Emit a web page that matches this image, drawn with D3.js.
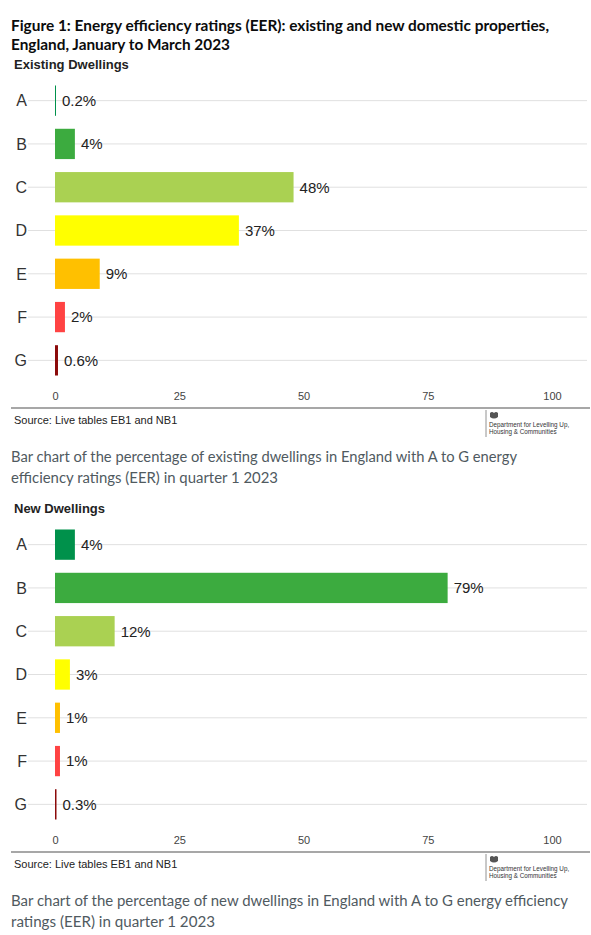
<!DOCTYPE html>
<html>
<head>
<meta charset="utf-8">
<script src="https://cdn.jsdelivr.net/npm/d3@7"></script>
<style>
  body { margin: 0; background: #fff; }
  svg { display: block; }
</style>
</head>
<body>
<svg id="chart" width="591" height="935"></svg>
<script>
// ratings and shares (%)
const ratings = ["A", "B", "C", "D", "E", "F", "G"];
const ratingColours = ["#00914b", "#3cab3f", "#aad152", "#ffff00", "#ffc000", "#ff4343", "#8b0a0a"];
const existingValues = [0.2, 4, 48, 37, 9, 2, 0.6];
const existingLabels = ["0.2%", "4%", "48%", "37%", "9%", "2%", "0.6%"];
const newValues = [4, 79, 12, 3, 1, 1, 0.3];
const newLabels = ["4%", "79%", "12%", "3%", "1%", "1%", "0.3%"];
const xTicks = [0, 25, 50, 75, 100];

const titleLines = [
  "Figure 1: Energy efficiency ratings (EER): existing and new domestic properties,",
  "England, January to March 2023"
];
const sourceText = "Source: Live tables EB1 and NB1";
const existingCaption = [
  "Bar chart of the percentage of existing dwellings in England with A to G energy",
  "efficiency ratings (EER) in quarter 1 2023"
];
const newCaption = [
  "Bar chart of the percentage of new dwellings in England with A to G energy efficiency",
  "ratings (EER) in quarter 1 2023"
];

const SANS = "'Liberation Sans', Arial, sans-serif";
const svg = d3.select("#chart");
svg.append("rect").attr("width", 591).attr("height", 935).attr("fill", "#fff");

const x = d3.scaleLinear().domain([0, 100]).range([55, 552]);

// title
svg.append("g").selectAll("text")
  .data(titleLines)
  .join("text")
  .attr("x", 11)
  .attr("y", (d, i) => 31 + i * 19)
  .attr("textLength", (d, i) => [538, 219][i])
  .attr("lengthAdjust", "spacingAndGlyphs")
  .style("font-family", "Lato, 'Noto Sans', sans-serif")
  .style("font-weight", "bold")
  .style("font-size", "16px")
  .style("fill", "#0b0c0c")
  .text(d => d);

const renderPanel = (top, heading, values, labels, caption, captionWidths) => {
  const g = svg.append("g").attr("transform", `translate(0,${top})`);

  g.append("text")
    .attr("x", 14)
    .attr("y", 0)
    .style("font-family", SANS)
    .style("font-weight", "bold")
    .style("font-size", "13px")
    .style("fill", "#222")
    .text(heading);

  const y = d3.scaleBand()
    .domain(ratings)
    .range([10, 313])
    .paddingInner(0.3)
    .paddingOuter(0.15);

  const rows = ratings.map((r, i) => ({ r, v: values[i], label: labels[i], c: ratingColours[i] }));

  // gridlines
  g.append("g").selectAll("line")
    .data(rows)
    .join("line")
    .attr("x1", 28)
    .attr("x2", 587)
    .attr("y1", d => y(d.r) + y.bandwidth() / 2)
    .attr("y2", d => y(d.r) + y.bandwidth() / 2)
    .attr("stroke", "#e0e0e0")
    .attr("stroke-width", 1);

  // bars
  g.append("g").selectAll("rect")
    .data(rows)
    .join("rect")
    .attr("x", x(0))
    .attr("y", d => y(d.r))
    .attr("width", d => Math.max(1, x(d.v) - x(0)))
    .attr("height", y.bandwidth())
    .attr("fill", d => d.c);

  // category letters
  g.append("g").selectAll("text")
    .data(rows)
    .join("text")
    .attr("x", 27)
    .attr("y", d => y(d.r) + y.bandwidth() / 2)
    .attr("dy", "0.36em")
    .attr("text-anchor", "end")
    .style("font-family", SANS)
    .style("font-size", "16px")
    .style("fill", "#333")
    .text(d => d.r);

  // value labels
  g.append("g").selectAll("text")
    .data(rows)
    .join("text")
    .attr("x", d => Math.max(x(d.v), x(0) + 1) + 6)
    .attr("y", d => y(d.r) + y.bandwidth() / 2)
    .attr("dy", "0.36em")
    .style("font-family", SANS)
    .style("font-size", "15px")
    .style("fill", "#222")
    .text(d => d.label);

  // x axis
  const axis = g.append("g")
    .attr("transform", "translate(0,327)")
    .call(d3.axisBottom(x).tickValues(xTicks).tickSize(0).tickPadding(0));
  axis.select(".domain").remove();
  axis.selectAll("text")
    .attr("dy", "0.36em")
    .attr("y", 0)
    .style("font-family", SANS)
    .style("font-size", "11px")
    .style("fill", "#444");

  // rule under the chart
  g.append("line")
    .attr("x1", 11).attr("x2", 590)
    .attr("y1", 339).attr("y2", 339)
    .attr("stroke", "#8a8a8a")
    .attr("stroke-width", 1.5);

  g.append("text")
    .attr("x", 14)
    .attr("y", 355)
    .style("font-family", SANS)
    .style("font-size", "11px")
    .style("fill", "#222")
    .text(sourceText);

  // department logo
  const logo = g.append("g").attr("transform", "translate(486,341)");
  logo.append("line")
    .attr("x1", 0).attr("x2", 0).attr("y1", 0).attr("y2", 27)
    .attr("stroke", "#777").attr("stroke-width", 0.8);
  logo.append("path")
    .attr("d", "M4,3 q2,-2 4,0 q2,-2 4,0 v4 q-4,3 -8,0 z")
    .attr("fill", "#555");
  logo.selectAll("text.dept")
    .data(["Department for Levelling Up,", "Housing & Communities"])
    .join("text")
    .attr("class", "dept")
    .attr("x", 3)
    .attr("y", (d, i) => 17 + i * 7)
    .style("font-family", SANS)
    .style("font-size", "6.3px")
    .style("fill", "#333")
    .text(d => d);

  // caption below
  g.append("g").selectAll("text")
    .data(caption)
    .join("text")
    .attr("x", 11)
    .attr("y", (d, i) => 393 + i * 21)
    .attr("textLength", (d, i) => captionWidths[i])
    .attr("lengthAdjust", "spacingAndGlyphs")
    .style("font-family", "Lato, 'Noto Sans', sans-serif")
    .style("font-size", "15.5px")
    .style("fill", "#505a5f")
    .text(d => d);
};

renderPanel(69, "Existing Dwellings", existingValues, existingLabels, existingCaption, [506, 267]);
renderPanel(513, "New Dwellings", newValues, newLabels, newCaption, [557, 204]);
</script>
</body>
</html>
